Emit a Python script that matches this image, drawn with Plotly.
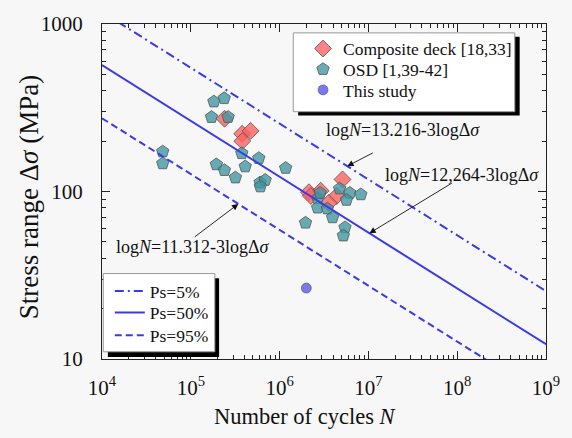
import math
import plotly.graph_objects as go

# ---- data -------------------------------------------------------------
# Composite deck test results [18,33]
comp_N = [2.40e5, 3.79e5, 4.71e5, 3.80e5, 5.11e6, 2.14e6, 2.90e6, 2.25e6, 4.40e6, 3.57e6]
comp_S = [272, 221, 230, 200, 118, 99, 101, 94, 94, 85.5]

# Orthotropic steel deck results [1,39-42]
osd_N = [1.82e5, 2.38e5, 1.71e5, 2.63e5, 4.83e4, 4.83e4, 3.75e5, 5.83e5, 1.94e5, 2.39e5,
         4.10e5, 3.18e5, 1.17e6, 6.03e5, 6.88e5, 6.07e5, 4.74e6, 6.18e6, 8.22e6, 5.66e6,
         2.68e6, 2.68e6, 3.45e6, 3.95e6, 1.96e6, 5.45e6, 5.22e6, 2.86e6]
osd_S = [344, 360, 278, 278, 173, 147, 169, 158, 145, 134,
         141, 121, 138, 113, 117, 107, 104, 98, 96, 89,
         91, 80, 79, 70, 65, 61, 54.5, 98]

# This study
study_N = [2.0e6]
study_S = [26.5]

# S-N curves: logN = C - 3 logΔσ
curve_names = ["Ps=5%", "Ps=50%", "Ps=95%"]
curve_C = [13.216, 12.264, 11.312]
curve_m = 3
N_ends = [1e4, 1e9]

x_tick_vals = [1e4, 1e5, 1e6, 1e7, 1e8, 1e9]
x_tick_text = ["10<sup>4</sup>", "10<sup>5</sup>", "10<sup>6</sup>",
               "10<sup>7</sup>", "10<sup>8</sup>", "10<sup>9</sup>"]
y_tick_vals = [10, 100, 1000]
y_tick_text = ["10", "100", "1000"]

# ---- styling ----------------------------------------------------------
SERIF = "Liberation Serif"
BLUE = "#3a3ae6"
dash_styles = ["9px,4px,2px,4px", "solid", "7px,4px"]


def sn_stress(C, N):
    return 10 ** ((C - math.log10(N)) / curve_m)


fig = go.Figure()

# one legend per entry so each row sits exactly where it should
fig.add_trace(go.Scatter(
    x=comp_N, y=comp_S, mode="markers", name="Composite deck [18,33]",
    marker=dict(symbol="diamond", size=13, color="rgba(255,95,95,0.78)",
                line=dict(color="#555", width=0.8)),
    legend="legend", showlegend=True))
fig.add_trace(go.Scatter(
    x=osd_N, y=osd_S, mode="markers", name="OSD [1,39-42]",
    marker=dict(symbol="pentagon", size=13, color="rgba(62,150,160,0.78)",
                line=dict(color="#555", width=0.8)),
    legend="legend2"))
fig.add_trace(go.Scatter(
    x=study_N, y=study_S, mode="markers", name="This study",
    marker=dict(symbol="circle", size=10, color="rgba(105,105,240,0.9)",
                line=dict(color="#555", width=0.6)),
    legend="legend3"))

for i, (name, C, dash) in enumerate(zip(curve_names, curve_C, dash_styles)):
    fig.add_trace(go.Scatter(
        x=N_ends, y=[sn_stress(C, n) for n in N_ends], mode="lines", name=name,
        line=dict(color=BLUE, width=2, dash=dash), legend=f"legend{4 + i}"))

# ---- equation labels with arrows ---------------------------------------
labels = [
    ("log<i>N</i>=13.216-3logΔ<i>σ</i>", 0.679, 0.683),
    ("log<i>N</i>=12,264-3logΔ<i>σ</i>", 0.811, 0.548),
    ("log<i>N</i>=11.312-3logΔ<i>σ</i>", 0.206, 0.335),
]
for txt, px, py in labels:
    fig.add_annotation(text=txt, x=px, y=py, xref="paper", yref="paper",
                       xanchor="center", yanchor="middle", showarrow=False,
                       font=dict(family=SERIF, size=18, color="#111"))

arrow_N = [10 ** 6.762, 10 ** 7.011, 10 ** 5.535]
arrow_off = [(27, -14), (84, -51), (-45, 34)]
for C, n, (ax, ay) in zip(curve_C, arrow_N, arrow_off):
    fig.add_annotation(x=math.log10(n), y=math.log10(sn_stress(C, n)),
                       xref="x", yref="y", text="", showarrow=True,
                       ax=ax, ay=ay, arrowhead=2, arrowsize=1.4,
                       arrowwidth=0.9, arrowcolor="#111")

# ---- legend boxes with drop shadows -------------------------------------
boxes = [
    (0.4418, 0.7265, 0.9407, 0.9618, 0.4308, 0.7382, 0.9297, 0.9735),
    (0.0132, 0.0059, 0.2637, 0.2412, 0.0029, 0.0215, 0.2541, 0.2550),
]
for sx0, sy0, sx1, sy1, bx0, by0, bx1, by1 in boxes:
    fig.add_shape(type="rect", xref="paper", yref="paper", layer="above",
                  x0=sx0, y0=sy0, x1=sx1, y1=sy1,
                  fillcolor="black", line=dict(width=0))
    fig.add_shape(type="rect", xref="paper", yref="paper", layer="above",
                  x0=bx0, y0=by0, x1=bx1, y1=by1,
                  fillcolor="white", line=dict(color="#999", width=1))

# ---- axis titles ---------------------------------------------------------
fig.add_annotation(text="Number of cycles <i>N</i>", x=0.458, y=-0.173,
                   xref="paper", yref="paper", xanchor="center", yanchor="middle",
                   showarrow=False, font=dict(family=SERIF, size=22.5, color="#111"))
fig.add_annotation(text="Stress range Δ<i>σ</i> (MPa)", x=-0.165, y=0.482,
                   xref="paper", yref="paper", xanchor="center", yanchor="middle",
                   textangle=-90, showarrow=False,
                   font=dict(family=SERIF, size=27, color="#111"))

minor_x = [m * 10 ** d for d in range(4, 9) for m in range(2, 10)]
minor_y = [m * 10 ** d for d in range(1, 3) for m in range(2, 10)]

axis_common = dict(
    type="log", showgrid=False, zeroline=False, showline=True,
    linecolor="#222", linewidth=1.2, mirror="ticks", ticks="inside",
    ticklen=8, tickwidth=1, tickcolor="#222",
    tickfont=dict(family=SERIF, size=21, color="#111"),
)
fig.update_xaxes(range=[4, 9], tickvals=x_tick_vals, ticktext=x_tick_text,
                 ticklabelstandoff=10,
                 minor=dict(tickvals=minor_x, ticks="inside", ticklen=4,
                            tickcolor="#222", showgrid=False),
                 **axis_common)
fig.update_yaxes(range=[1, 3], tickvals=y_tick_vals, ticktext=y_tick_text,
                 ticklabelstandoff=14,
                 minor=dict(tickvals=minor_y, ticks="inside", ticklen=4,
                            tickcolor="#222", showgrid=False),
                 **axis_common)

# legend rows (paper coordinates, anchored at row centre)
PH, PW = 340.0, 455.0
def row(px_left, py_center):
    return dict(x=(px_left - 102) / PW, y=(359 - py_center) / PH,
                xanchor="left", yanchor="middle",
                bgcolor="rgba(0,0,0,0)", borderwidth=0,
                font=dict(family=SERIF, size=17.5, color="#111"))

legend_rows = {
    "legend": row(308, 44),
    "legend2": row(308, 65),
    "legend3": row(308, 86),
    "legend4": row(110, 290),
    "legend5": row(110, 312),
    "legend6": row(110, 335),
}

fig.update_layout(
    width=572, height=438,
    margin=dict(l=102, r=15, t=19, b=79),
    paper_bgcolor="#f7f7f7", plot_bgcolor="#f7f7f7",
    font=dict(family=SERIF, color="#111"),
    showlegend=True,
    **legend_rows,
)

fig.write_html("out.html")
